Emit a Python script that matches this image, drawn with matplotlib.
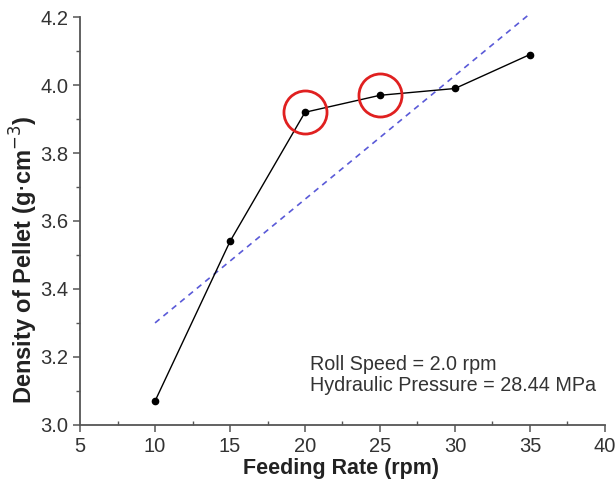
import matplotlib.pyplot as plt
from matplotlib.ticker import MultipleLocator

# data
feed_rate = [10, 15, 20, 25, 30, 35]
density = [3.07, 3.54, 3.92, 3.97, 3.99, 4.09]
# linear trend line end points
trend_x = [10, 35]
trend_y = [3.30, 4.21]
# highlighted points
mark_x = [20, 25]
mark_y = [3.92, 3.97]

plt.rcParams['font.family'] = ['Liberation Sans', 'DejaVu Sans']

fig = plt.figure(figsize=(6.16, 4.90), dpi=100)
ax = fig.add_axes([0.13, 0.133, 0.852, 0.832])

ax.plot(trend_x, trend_y, color='#5a5ad8', linestyle=(0, (3.5, 3)), linewidth=1.2, clip_on=False)
ax.plot(feed_rate, density, color='black', linewidth=1.0, marker='o', markersize=4.5)
ax.plot(mark_x, mark_y, linestyle='none', marker='o', markersize=31,
        markerfacecolor='none', markeredgecolor='#e02020', markeredgewidth=2)

ax.set_xlim(5, 40)
ax.set_ylim(3.0, 4.2)
ax.xaxis.set_major_locator(MultipleLocator(5))
ax.xaxis.set_minor_locator(MultipleLocator(2.5))
ax.yaxis.set_major_locator(MultipleLocator(0.2))
ax.yaxis.set_minor_locator(MultipleLocator(0.1))
ax.yaxis.set_major_formatter(plt.FormatStrFormatter('%.1f'))

for s in ['top', 'right']:
    ax.spines[s].set_visible(False)
for s in ['left', 'bottom']:
    ax.spines[s].set_color('#555555')
    ax.spines[s].set_linewidth(1.3)

ax.tick_params(which='major', direction='out', length=5, width=1.1, color='#555555',
               labelsize=14.5, labelcolor='#333333')
ax.tick_params(axis='x', which='minor', direction='in', length=3, width=1, color='#555555')
ax.tick_params(axis='y', which='minor', direction='out', length=3, width=1, color='#555555')

ax.set_xlabel('Feeding Rate (rpm)', fontsize=15.5, fontweight='bold', color='#222222')
ax.set_ylabel('Density of Pellet (g$\\cdot$cm$^{-3}$)', fontsize=17, fontweight='bold',
              color='#222222')
ax.xaxis.set_label_coords(0.497, -0.082)
ax.yaxis.set_label_coords(-0.076, 0.405)

ax.text(20.3, 3.205, 'Roll Speed = 2.0 rpm\nHydraulic Pressure = 28.44 MPa',
        fontsize=14.2, color='#333333', va='top', ha='left', linespacing=1.15)

fig.savefig('out.png', dpi=100)
